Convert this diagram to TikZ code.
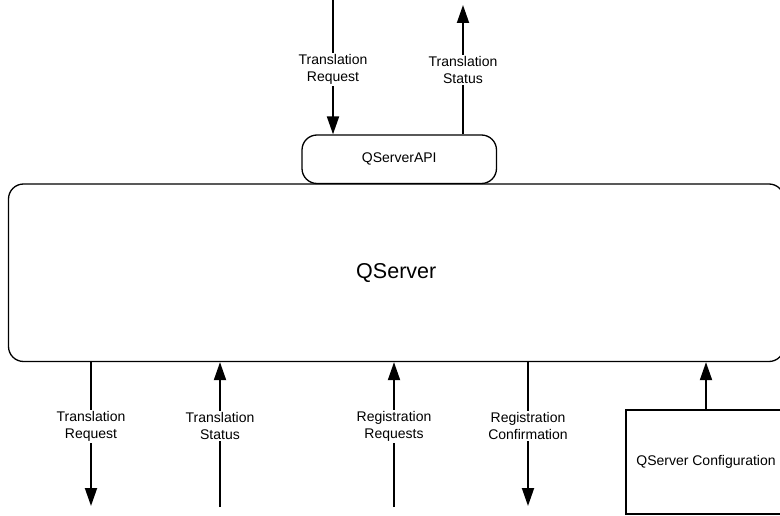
\documentclass[tikz,border=0pt]{standalone}
\usepackage{fontspec}
\setmainfont{Liberation Sans}
\usetikzlibrary{arrows.meta}

\tikzset{
  flow/.style={draw, line width=1.9pt, -{Triangle[width=12pt,length=18pt]}},
  flowtext/.style={fill=white, align=center, inner sep=1.5pt,
    font=\fontsize{14}{17}\selectfont},
}

\begin{document}
\begin{tikzpicture}[x=1pt,y=-1pt]
      \useasboundingbox (0,0) rectangle (780,516);

      \begin{scope}[every node/.style={draw, line width=1.3pt, inner sep=0pt}]
        \node[rounded corners=15pt, minimum width=775.5pt, minimum height=177.5pt,
              font=\fontsize{21.5}{26}\selectfont] (qserver) at (396.25,272.75) {QServer};
        \node[rounded corners=15pt, fill=white, minimum width=194.5pt, minimum height=48.5pt,
              font=\fontsize{14}{17}\selectfont] (api) at (399.25,159.25) {QServerAPI};
        \node[minimum width=160pt, minimum height=104pt,
              font=\fontsize{14}{17}\selectfont] (config) at (706,462) {QServer Configuration};
      \end{scope}

      % loose ends of the flows
      \coordinate (apiin)  at (333,0);
      \coordinate (apiout) at (463,5);
      \coordinate (trreq)  at (91,506);
      \coordinate (trstat) at (220,507);
      \coordinate (regreq) at (394,507);
      \coordinate (regcon) at (528,506);

      \path (apiin)  edge[flow] node[flowtext, pos=.52] {Translation\\Request} (apiin |- api.north);
      \path (api.north -| apiout) edge[flow] node[flowtext, pos=.5] {Translation\\Status} (apiout);

      \path (qserver.south -| trreq) edge[flow] node[flowtext, pos=.446] {Translation\\Request} (trreq);
      \path (trstat) edge[flow] node[flowtext, pos=.557] {Translation\\Status} (trstat |- qserver.south);
      \path (regreq) edge[flow] node[flowtext, pos=.557] {Registration\\Requests} (regreq |- qserver.south);
      \path (qserver.south -| regcon) edge[flow] node[flowtext, pos=.446] {Registration\\Confirmation} (regcon);
      \path (config.north) edge[flow] (config.north |- qserver.south);

\end{tikzpicture}
\end{document}
